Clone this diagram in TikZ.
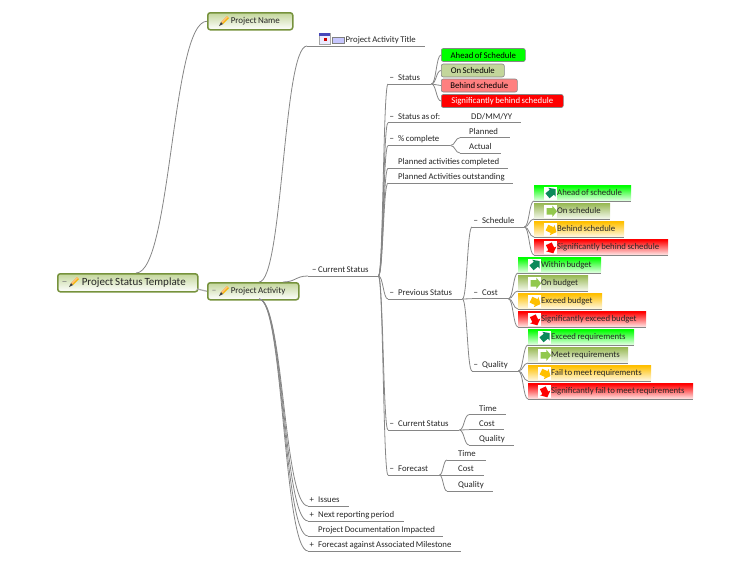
\documentclass[tikz,border=0pt]{standalone}
\usepackage{fontspec}
\setmainfont[WordSpace=0.75]{Carlito}
\usetikzlibrary{calc,shapes.arrows}
\definecolor{mainedge}{HTML}{76923C}
\definecolor{mainfill}{HTML}{C3D69B}
\definecolor{linkgray}{HTML}{868686}
\definecolor{textdark}{HTML}{262626}
\definecolor{trendteal}{HTML}{0B8A5A}
\definecolor{trendlime}{HTML}{92C84E}
\definecolor{trendolive}{HTML}{9BBB59}
\definecolor{trendamber}{HTML}{FFC000}
\tikzset{
  mainbox/.style={anchor=north west,draw=mainedge,line width=1.5pt,rounded corners=2.5pt,
    top color=mainfill,bottom color=white,inner sep=0pt,align=flush left,text=textdark,
    minimum height=#1pt},
  topicline/.style={draw=linkgray,line width=0.9pt},
  topic/.style={anchor=south west,inner sep=0pt,text width=#1pt,align=flush left,text=textdark,
    text height=8pt,text depth=3.5pt,
    append after command={(\tikzlastnode.south west) edge[topicline] (\tikzlastnode.south east)}},
  statebox/.style 2 args={anchor=west,draw=linkgray,line width=0.6pt,rounded corners=2pt,
    fill=#2,minimum width=#1pt,minimum height=13pt,inner sep=0pt},
  trendbox/.style 2 args={anchor=south west,inner sep=0pt,text width=#1pt,align=flush left,
    top color=#2,bottom color=#2!10,text=textdark,text height=10pt,text depth=5pt,
    append after command={(\tikzlastnode.south west) edge[topicline] (\tikzlastnode.south east)}},
  iconback/.style={fill=white,inner sep=0pt,minimum size=13pt},
  trendarrow/.style={single arrow,fill=#1,inner sep=0pt,text height=6pt,text depth=0pt,
    minimum height=10.5pt,minimum width=0pt,
    single arrow head extend=2.5pt,single arrow tip angle=100},
  mmlink/.style={draw=linkgray,line width=0.8pt,to path={
    let \p1=(\tikztostart),\p2=(\tikztotarget),\n1={0.5*\x1+0.5*\x2} in
    (\tikztostart) .. controls (\n1,\y1) and (\n1,\y2) .. (\tikztotarget)}},
  pencil/.pic={
    \fill[trendamber!85!brown] (2,-2) -- (8,-8) -- (10,-6) -- (4,0) -- cycle;
    \fill[orange!50!white] (2,-2) -- (8,-8) -- (9,-7) -- (3,-1) -- cycle;
    \fill[black!75] (0,2) -- (2,-2) -- (4,0) -- cycle;}
}
\newcommand{\hm}{\makebox[10pt][l]{\,−}}
\newcommand{\hp}{\makebox[10pt][l]{\,+}}
\newcommand{\hn}{\hspace*{10pt}}
\newcommand{\hi}{\hspace*{23pt}}
\newcommand{\trendicon}[3]{
  \node[iconback] (#1i) at ([xshift=16.5pt]#1.west) {};
  \node[trendarrow=#2,rotate=#3] (#1a) at (#1i) {};}
\begin{document}
\begin{tikzpicture}[x=1pt,y=-1pt,font=\fontsize{8.75}{10}\selectfont]
    \useasboundingbox (0,0) rectangle (750,563);
    % main topics
    \node[mainbox=18,text width=140pt] (root) at (57,273) {\fontsize{11}{13}\selectfont\hspace*{4pt}\makebox[20pt][l]{\color{gray}−}Project Status Template};
    \node[mainbox=17,text width=85pt,font=\fontsize{9}{11}\selectfont] (name) at (207,12) {\hspace*{23pt}Project Name};
    \node[mainbox=17,text width=91pt,font=\fontsize{9}{11}\selectfont] (activity) at (207,282) {\hspace*{4pt}\makebox[19pt][l]{\color{gray}−}Project Activity};
    \pic at (69,285) {pencil};
    \pic at (219,24) {pencil};
    \pic at (219,294) {pencil};
    \coordinate (roottop) at (136,273);
    \coordinate (rootout) at (197,289);
    \coordinate (acttop) at (259,282);
    \coordinate (actright) at (283,282);
    \coordinate (actbottom) at (259,299);
    \draw[mmlink] (roottop) to (name.west);
    \draw[linkgray!70,line width=1.2pt] (rootout) -- (activity.west);
    % activity title
    \node[topic=118] (title) at (307,46) {\hspace*{38.5pt}Project Activity Title};
    \draw[gray!70,fill=blue!8] (319,33) rectangle (330,44);
    \fill[blue!45!gray] (319,33) rectangle (330,36);
    \fill[red!80!black] (324,38) rectangle (327,41);
    \draw[gray,fill=blue!22] (332,37) rectangle (344,43);
    \draw[mmlink] (acttop) to (title.south west);
    % current status
    \node[topic=70] (current) at (308,276) {\hspace*{4pt}\makebox[6pt][l]{−}Current Status};
    \draw[mmlink] (actright) to (current.south west);
    \node[topic=43] (status) at (388,84) {\hm Status};
    \node[topic=73] (statusas) at (388,122.7) {\hm Status as of:};
    \node[topic=60] (ddmm) at (461,122.7) {\hspace*{10pt}DD/MM/YY};
    \node[topic=62] (percent) at (388,145.5) {\hm \% complete};
    \node[topic=120] (plandone) at (388,168.3) {\hn Planned activities completed};
    \node[topic=125] (planout) at (388,183) {\hn Planned Activities outstanding};
    \node[topic=74] (previous) at (388,299) {\hm Previous Status};
    \node[topic=71] (curstat) at (388,430) {\hm Current Status};
    \node[topic=51] (forecast) at (388,475) {\hm Forecast};
    \draw[mmlink] (current.south east) to (status.south west);
    \draw[mmlink] (current.south east) to (statusas.south west);
    \draw[mmlink] (current.south east) to (percent.south west);
    \draw[mmlink] (current.south east) to (plandone.south west);
    \draw[mmlink] (current.south east) to (planout.south west);
    \draw[mmlink] (current.south east) to (previous.south west);
    \draw[mmlink] (current.south east) to (curstat.south west);
    \draw[mmlink] (current.south east) to (forecast.south west);
    % status colours
    \node[statebox={84}{green}] (ahead) at (441,55) {Ahead of Schedule};
    \node[statebox={63}{mainfill}] (onsched) at (441,70.5) {On Schedule};
    \node[statebox={76}{red!50!white}] (behind) at (441,85.5) {Behind schedule};
    \node[statebox={122}{red},text=white] (signif) at (441,101) {Significantly behind schedule};
    \draw[mmlink] (status.south east) to (ahead.west);
    \draw[mmlink] (status.south east) to (onsched.west);
    \draw[mmlink] (status.south east) to (behind.west);
    \draw[mmlink] (status.south east) to (signif.west);
    % percent complete
    \node[topic=50] (planned) at (460,137.7) {\hspace*{9pt}Planned};
    \node[topic=41] (actual) at (460,153) {\hspace*{9pt}Actual};
    \draw[mmlink] (percent.south east) to (planned.south west);
    \draw[mmlink] (percent.south east) to (actual.south west);
    % previous status
    \node[topic=52] (schedule) at (472,227) {\hm Schedule};
    \node[topic=36] (cost) at (472,298.7) {\hm Cost};
    \node[topic=46] (quality) at (472,371) {\hm Quality};
    \draw[mmlink] (previous.south east) to (schedule.south west);
    \draw[mmlink] (previous.south east) to (cost.south west);
    \draw[mmlink] (previous.south east) to (quality.south west);
    % schedule
    \node[trendbox={97}{green}] (sa) at (534,201) {\hi Ahead of schedule};
    \node[trendbox={76}{trendolive}] (sb) at (534,219) {\hi On schedule};
    \node[trendbox={90}{trendamber}] (sc) at (534,237) {\hi Behind schedule};
    \node[trendbox={134}{red}] (sd) at (534,255) {\hi Significantly behind schedule};
    \trendicon{sa}{trendteal}{40}
    \trendicon{sb}{trendlime}{0}
    \trendicon{sc}{trendamber}{-25}
    \trendicon{sd}{red}{-65}
    \draw[mmlink] (schedule.south east) to (sa.south west);
    \draw[mmlink] (schedule.south east) to (sb.south west);
    \draw[mmlink] (schedule.south east) to (sc.south west);
    \draw[mmlink] (schedule.south east) to (sd.south west);
    % cost
    \node[trendbox={83}{green}] (ca) at (518,273) {\hi Within budget};
    \node[trendbox={70}{trendolive}] (cb) at (518,291) {\hi On budget};
    \node[trendbox={84}{trendamber}] (cc) at (518,309) {\hi Exceed budget};
    \node[trendbox={128}{red}] (cd) at (518,327) {\hi Significantly exceed budget};
    \trendicon{ca}{trendteal}{40}
    \trendicon{cb}{trendlime}{0}
    \trendicon{cc}{trendamber}{-25}
    \trendicon{cd}{red}{-65}
    \draw[mmlink] (cost.south east) to (ca.south west);
    \draw[mmlink] (cost.south east) to (cb.south west);
    \draw[mmlink] (cost.south east) to (cc.south west);
    \draw[mmlink] (cost.south east) to (cd.south west);
    % quality
    \node[trendbox={106}{green}] (qa) at (528,345) {\hi Exceed requirements};
    \node[trendbox={100}{trendolive}] (qb) at (528,363) {\hi Meet requirements};
    \node[trendbox={123}{trendamber}] (qc) at (528,381) {\hi Fail to meet requirements};
    \node[trendbox={165}{red}] (qd) at (528,399) {\hi Significantly fail to meet requirements};
    \trendicon{qa}{trendteal}{40}
    \trendicon{qb}{trendlime}{0}
    \trendicon{qc}{trendamber}{-25}
    \trendicon{qd}{red}{-65}
    \draw[mmlink] (quality.south east) to (qa.south west);
    \draw[mmlink] (quality.south east) to (qb.south west);
    \draw[mmlink] (quality.south east) to (qc.south west);
    \draw[mmlink] (quality.south east) to (qd.south west);
    % current status and forecast
    \node[topic=37] (time) at (469,414.7) {\hspace*{10pt}Time};
    \node[topic=35] (costb) at (469,429.7) {\hspace*{10pt}Cost};
    \node[topic=45] (qualb) at (469,445) {\hspace*{10pt}Quality};
    \draw[mmlink] (curstat.south east) to (time.south west);
    \draw[mmlink] (curstat.south east) to (costb.south west);
    \draw[mmlink] (curstat.south east) to (qualb.south west);
    \node[topic=39] (timec) at (447,460) {\hspace*{11pt}Time};
    \node[topic=37] (costc) at (447,475) {\hspace*{11pt}Cost};
    \node[topic=46] (qualc) at (447,491) {\hspace*{11pt}Quality};
    \draw[mmlink] (forecast.south east) to (timec.south west);
    \draw[mmlink] (forecast.south east) to (costc.south west);
    \draw[mmlink] (forecast.south east) to (qualc.south west);
    % collapsed topics
    \node[topic=41] (issues) at (308,506) {\hp Issues};
    \node[topic=96] (nextrep) at (308,521) {\hp Next reporting period};
    \node[topic=135] (docs) at (308,536) {\hn Project Documentation Impacted};
    \node[topic=153] (against) at (308,551) {\hp Forecast against Associated Milestone};
    \draw[mmlink] (actbottom) to (issues.south west);
    \draw[mmlink] (actbottom) to (nextrep.south west);
    \draw[mmlink] (actbottom) to (docs.south west);
    \draw[mmlink] (actbottom) to (against.south west);
\end{tikzpicture}
\end{document}
